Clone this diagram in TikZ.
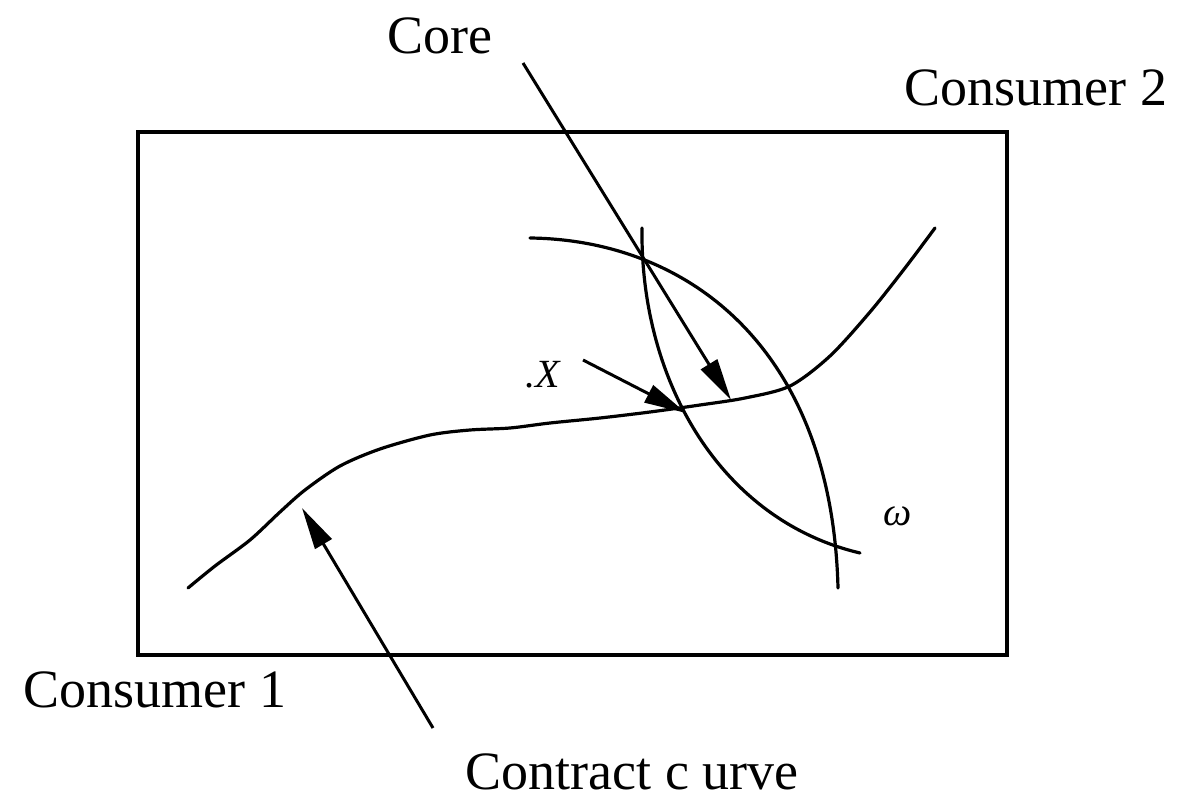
\documentclass[tikz,border=0pt]{standalone}
\usepackage{fontspec}
\setmainfont{Liberation Serif}
\usetikzlibrary{arrows.meta}
\begin{document}
\begin{tikzpicture}[x=1pt,y=-1pt,
  lbl/.style={font=\fontsize{54}{60}\selectfont, inner sep=0pt},
  sml/.style={font=\fontsize{40}{46}\selectfont\itshape, inner sep=0pt},
  crv/.style={line width=3.2pt, line join=round, line cap=round},
  arr/.style={line width=3pt, -{Triangle[length=42pt,width=19pt]}}]
\useasboundingbox (0,0) rectangle (1182,799);
\draw[line width=3.2pt] (138,132) rectangle (1007,655);
% labels
\node[lbl] (core) at (440,36) {Core};
\node[lbl] (c2) at (1036,88) {Consumer 2};
\node[lbl] (c1) at (155,690) {Consumer 1};
\node[lbl] (cc) at (632,772) {Contract c urve};
\node[sml] (x) at (543,375) {.X};
\node[sml] (w) at (898,516) {ω};
% contract curve
\draw[crv] plot[smooth, tension=0.5] coordinates {(188,588) (215,566) (250,540) (280,512) (305,490) (340,466) (380,449) (430,435) (470,430) (510,428) (550,423) (600,418) (650,412) (700,405) (745,398) (790,386) (830,356) (870,312) (905,268) (935,228)};
% indifference curves
\draw[crv] (530,238) .. controls (690,240) and (832,350) .. (838,588);
\draw[crv] (642,228) .. controls (640,380) and (720,520) .. (860,553);
% arrows
\coordinate (corestart) at (523,63);
\coordinate (coretip) at (731,400);
\coordinate (xstart) at (583,360);
\coordinate (xtip) at (686,413);
\coordinate (ccstart) at (433,728);
\coordinate (cctip) at (302,508);
\draw[arr] (corestart) -- (coretip);
\draw[arr] (xstart) -- (xtip);
\draw[arr] (ccstart) -- (cctip);
\end{tikzpicture}
\end{document}
